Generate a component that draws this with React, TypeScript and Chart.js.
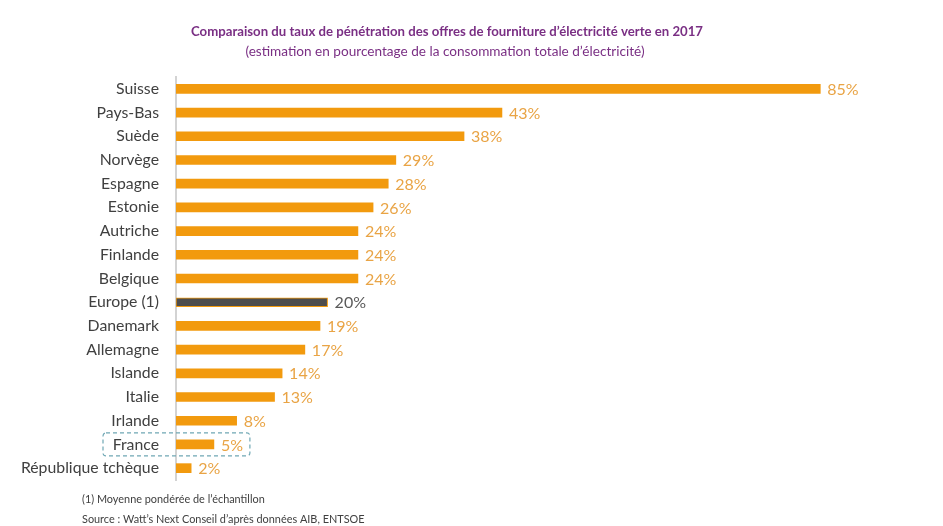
import React, { useEffect, useRef } from "react";
import { Chart, registerables } from "chart.js";

Chart.register(...registerables);

const categories = [
  "Suisse", "Pays-Bas", "Suède", "Norvège", "Espagne", "Estonie", "Autriche",
  "Finlande", "Belgique", "Europe (1)", "Danemark", "Allemagne", "Islande",
  "Italie", "Irlande", "France", "République tchèque",
];
const values = [85, 43, 38, 29, 28, 26, 24, 24, 24, 20, 19, 17, 14, 13, 8, 5, 2];
const highlightCategory = "Europe (1)";
const boxedCategory = "France";
const titleText = "Comparaison du taux de pénétration des offres de fourniture d’électricité verte en 2017";
const subtitleText = "(estimation en pourcentage de la consommation totale d’électricité)";
const footnotes = [
  "(1) Moyenne pondérée de l’échantillon",
  "Source : Watt’s Next Conseil d’après données AIB, ENTSOE",
];

const ORANGE = "#F29A0E";
const LABEL_ORANGE = "#E9A445";
const DARK = "#4D4D4D";
const FONT = "Lato, 'Open Sans', sans-serif";

export default function App() {
  const ref = useRef<HTMLCanvasElement | null>(null);

  useEffect(() => {
    if (!ref.current) return;
    const deco = {
      id: "deco",
      afterDatasetsDraw(chart: any) {
        const ctx = chart.ctx;
        const xs = chart.scales.x;
        const ys = chart.scales.y;
        ctx.save();
        // value labels
        ctx.font = `16px ${FONT}`;
        ctx.textBaseline = "middle";
        ctx.textAlign = "left";
        values.forEach((v, i) => {
          const isHi = categories[i] === highlightCategory;
          ctx.fillStyle = isHi ? "#5A5A5A" : LABEL_ORANGE;
          ctx.fillText(v + "%", xs.getPixelForValue(v) + 7, ys.getPixelForValue(i) + 1);
        });
        // dashed box around France
        const fi = categories.indexOf(boxedCategory);
        const cy = ys.getPixelForValue(fi);
        const x0 = chart.chartArea.left - 73;
        const x1 = xs.getPixelForValue(values[fi]) + 36;
        ctx.strokeStyle = "#6FA7B4";
        ctx.lineWidth = 1.2;
        ctx.setLineDash([4, 3]);
        ctx.beginPath();
        ctx.roundRect(x0, cy - 11.5, x1 - x0, 23, 3);
        ctx.stroke();
        ctx.setLineDash([]);
        // titles
        ctx.textAlign = "center";
        ctx.fillStyle = "#7A2F84";
        ctx.font = `bold 13.2px ${FONT}`;
        ctx.fillText(titleText, 447, 32);
        ctx.font = `13.6px ${FONT}`;
        ctx.fillText(subtitleText, 445, 52);
        // footnotes
        ctx.textAlign = "left";
        ctx.fillStyle = "#404040";
        ctx.font = `10.9px ${FONT}`;
        ctx.fillText(footnotes[0], 82, 499);
        ctx.fillText(footnotes[1], 82, 519);
        ctx.restore();
      },
    };

    const chart = new Chart(ref.current, {
      type: "bar",
      data: {
        labels: categories,
        datasets: [
          {
            data: values,
            backgroundColor: categories.map((c) => (c === highlightCategory ? DARK : ORANGE)),
            borderColor: ORANGE,
            borderWidth: categories.map((c) => (c === highlightCategory ? 1 : 0)),
            barThickness: 9,
            borderSkipped: false,
          },
        ],
      },
      options: {
        indexAxis: "y",
        animation: false,
        responsive: false,
        layout: { padding: { left: 0, right: 9, top: 77, bottom: 46 } },
        plugins: { legend: { display: false }, tooltip: { enabled: false }, title: { display: false } },
        scales: {
          x: { display: false, min: 0, max: 100 },
          y: {
            grid: { display: false },
            border: { display: true, color: "#D3D3D3", width: 2 },
            afterFit: (s: any) => { s.width = 176; },
            ticks: {
              padding: 9,
              color: "#404040",
              font: { family: FONT, size: 15.8 },
            },
          },
        },
      },
      plugins: [deco],
    });
    return () => chart.destroy();
  }, []);

  return (
    <div style={{ position: "absolute", left: 0, top: 0, width: 943, height: 526, background: "#fff" }}>
      <canvas ref={ref} width={943} height={526} />
    </div>
  );
}
